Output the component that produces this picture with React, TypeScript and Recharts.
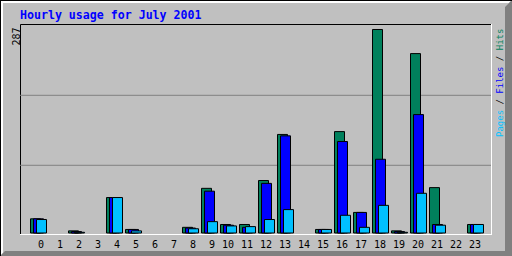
import { Bar, BarChart, CartesianGrid, XAxis, YAxis } from "recharts";

const hours = [
  "0", "1", "2", "3", "4", "5", "6", "7", "8", "9", "10", "11",
  "12", "13", "14", "15", "16", "17", "18", "19", "20", "21", "22", "23",
];
const hits = [20, 0, 3, 0, 50, 5, 0, 0, 8, 63, 12, 12, 74, 139, 0, 5, 143, 29, 287, 3, 253, 64, 0, 12];
const files = [20, 0, 2, 0, 50, 5, 0, 0, 7, 59, 11, 8, 70, 137, 0, 5, 129, 29, 104, 2, 167, 12, 0, 12];
const pages = [19, 0, 1, 0, 50, 3, 0, 0, 6, 16, 10, 9, 19, 33, 0, 5, 25, 8, 39, 1, 56, 11, 0, 12];
// grid lines sit at thirds of the frame, not of the data
const gridValues = [95.5, 194.2];

const title = "Hourly usage for July 2001";
const maxHits = Math.max(...hits);

const GREEN = "#00805C";
const BLUE = "#0000FF";
const CYAN = "#00C0FF";
const GRAY = "#C0C0C0";
const DARK = "#808080";
const MONO = "'DejaVu Sans Mono', monospace";

const data = hours.map((h, i) => ({ hour: h, hits: hits[i], files: files[i], pages: pages[i] }));

function HourTick({ x, y, payload }: any) {
  return (
    <text x={x + 6} y={y + 15} textAnchor="end" fontFamily={MONO} fontSize={10} fill="#000">
      {payload.value}
    </text>
  );
}

export default function App() {
  return (
    <div style={{ position: "absolute", left: 0, top: 0, width: 512, height: 256 }}>
      <svg width={512} height={256} style={{ position: "absolute", left: 0, top: 0 }}>
        <rect x={0} y={0} width={512} height={256} fill={GRAY} />
        <polygon points="0,0 512,0 509,3 3,3 3,253 0,256" fill="#fff" />
        <polygon points="512,0 512,256 0,256 5,251 505,251 505,7" fill={DARK} />
        <path d="M0.5,0 V256 M0,0.5 H512" stroke="#000" />
        {/* plot frame */}
        <path d="M20.5,24.5 H491 M20.5,24.5 V234" stroke="#000" />
        <path d="M20,234.5 H492 M491.5,24 V235" stroke="#fff" />
        <text x={20} y={19} fontFamily={MONO} fontWeight="bold" fontSize={11.6} fill={BLUE}>
          {title}
        </text>
        <text
          x={19.5}
          y={45.5}
          transform="rotate(-90 19.5 45.5)"
          fontFamily={MONO}
          fontSize={10}
          fill="#000"
        >
          {maxHits}
        </text>
        <text
          x={503}
          y={137}
          transform="rotate(-90 503 137)"
          fontFamily={MONO}
          fontSize={9}
        >
          <tspan fill={CYAN}>Pages</tspan>
          <tspan fill="#000"> / </tspan>
          <tspan fill={BLUE}>Files</tspan>
          <tspan fill="#000"> / </tspan>
          <tspan fill={GREEN}>Hits</tspan>
        </text>
      </svg>
      <div style={{ position: "absolute", left: 0, top: 0 }}>
        <BarChart
          width={512}
          height={256}
          data={data}
          margin={{ top: 25, right: 21, bottom: 0, left: 20 }}
          barGap={-7}
        >
          <CartesianGrid
            vertical={false}
            horizontalValues={gridValues}
            stroke={DARK}
            strokeWidth={1}
          />
          <XAxis
            dataKey="hour"
            height={23}
            interval={0}
            axisLine={false}
            tickLine={false}
            tickSize={0}
            tickMargin={0}
            padding={{ left: 8.5, right: 6.5 }}
            tick={<HourTick />}
          />
          <YAxis hide domain={[0, 293.34]} ticks={gridValues} />
          <Bar dataKey="hits" fill={GREEN} stroke="#000" strokeWidth={1} barSize={10} isAnimationActive={false} />
          <Bar dataKey="files" fill={BLUE} stroke="#000" strokeWidth={1} barSize={10} isAnimationActive={false} />
          <Bar dataKey="pages" fill={CYAN} stroke="#000" strokeWidth={1} barSize={10} isAnimationActive={false} />
        </BarChart>
      </div>
    </div>
  );
}
